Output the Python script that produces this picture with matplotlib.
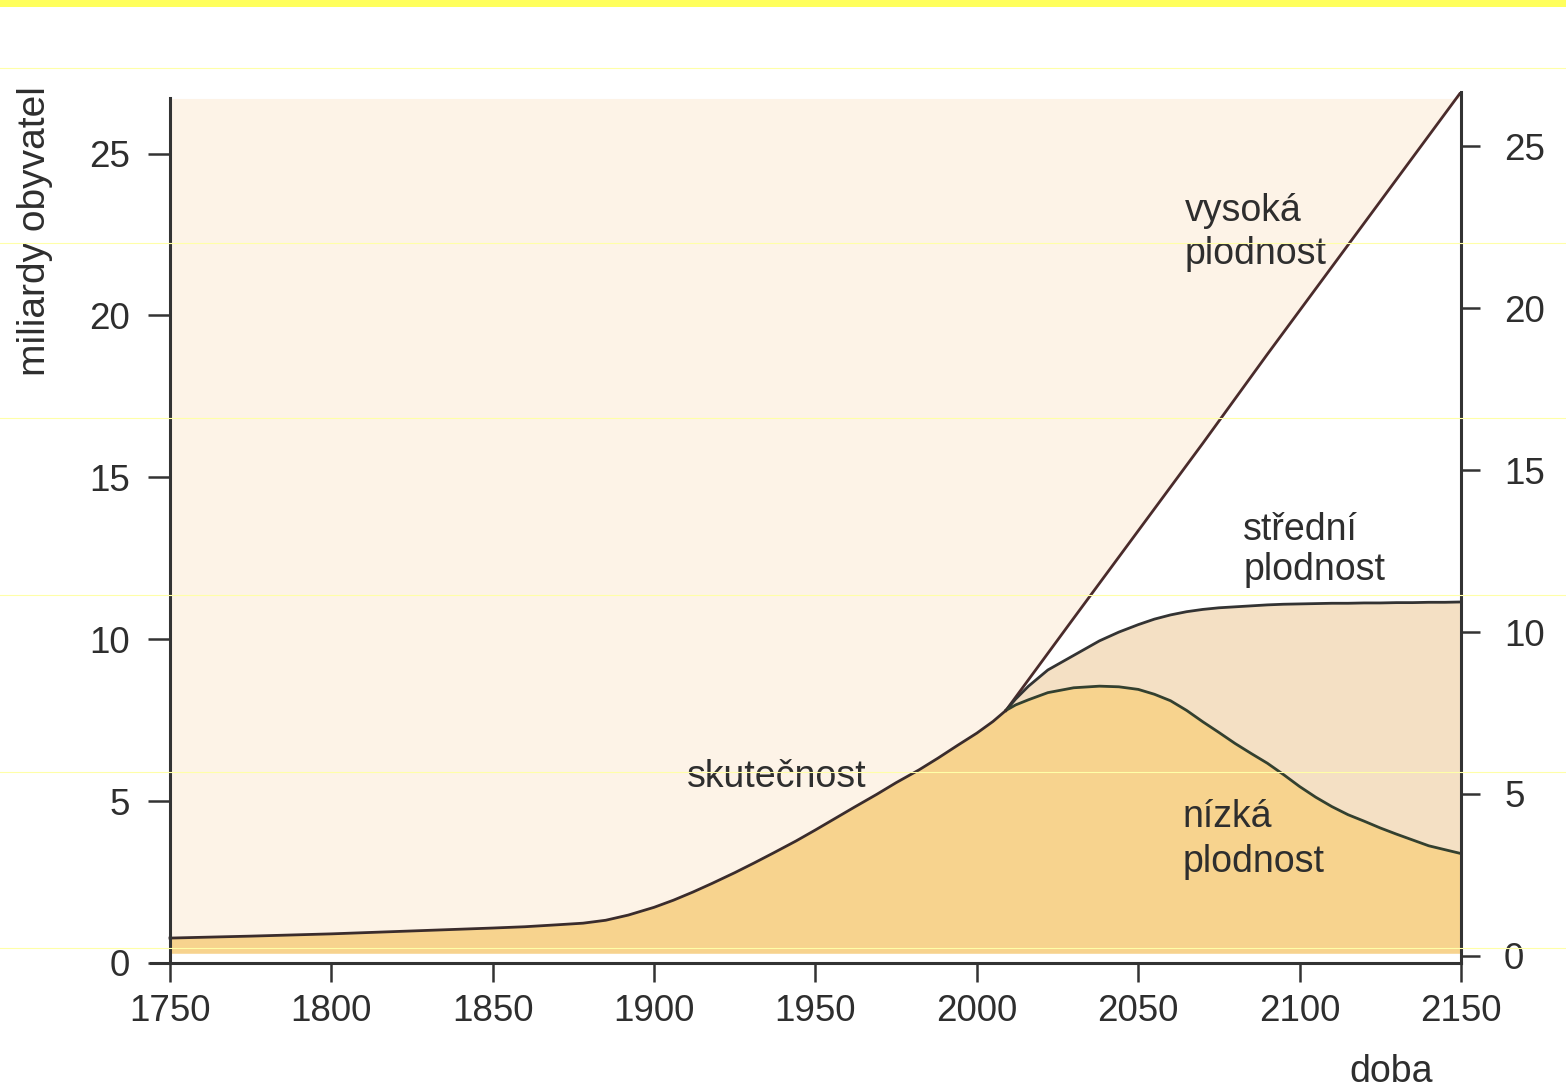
import matplotlib
matplotlib.use("Agg")
import matplotlib.pyplot as plt
from matplotlib.patches import Rectangle
from matplotlib.lines import Line2D

plt.rcParams['font.family'] = ['Liberation Sans', 'DejaVu Sans']

# skutečnost (historie)
hist_years = [1750, 1775, 1800, 1825, 1850, 1860, 1870, 1878, 1885, 1892,
              1900, 1906, 1912, 1918, 1925, 1931, 1937, 1944, 1950, 1956,
              1962, 1969, 1975, 1982, 1988, 1994, 2000, 2005, 2009]
hist_pop = [0.77, 0.83, 0.90, 0.99, 1.08, 1.12, 1.18, 1.23, 1.32, 1.48,
            1.72, 1.94, 2.19, 2.46, 2.79, 3.09, 3.40, 3.77, 4.11, 4.46,
            4.81, 5.21, 5.57, 5.96, 6.33, 6.72, 7.10, 7.46, 7.80]

# vysoká plodnost (přímka)
high_years = [2009, 2030, 2050, 2070, 2090, 2110, 2130, 2150]
high = [7.80, 10.65, 13.35, 16.05, 18.80, 21.50, 24.20, 26.90]

# střední a nízká plodnost
proj_years = [2009, 2012, 2016, 2022, 2030, 2038, 2044, 2050, 2055, 2060,
              2065, 2070, 2075, 2080, 2085, 2090, 2095, 2100, 2105, 2110,
              2115, 2120, 2125, 2130, 2135, 2140, 2145, 2150]
medium = [7.80, 8.15, 8.55, 9.05, 9.50, 9.95, 10.22, 10.45, 10.62, 10.75,
          10.85, 10.92, 10.97, 11.00, 11.03, 11.06, 11.08, 11.09, 11.10, 11.11,
          11.11, 11.12, 11.12, 11.13, 11.13, 11.14, 11.14, 11.15]
low = [7.80, 7.97, 8.13, 8.35, 8.50, 8.55, 8.53, 8.45, 8.30, 8.10,
       7.80, 7.45, 7.12, 6.78, 6.47, 6.17, 5.82, 5.45, 5.12, 4.83,
       4.58, 4.38, 4.17, 3.98, 3.80, 3.62, 3.50, 3.38]

x_ticks = [1750, 1800, 1850, 1900, 1950, 2000, 2050, 2100, 2150]
y_ticks = [0, 5, 10, 15, 20, 25]

W, H = 1566, 1090
fig = plt.figure(figsize=(W / 100, H / 100), dpi=100)
fig.patch.set_facecolor('white')

# žlutý pruh nahoře a slabé linky ze skenu
fig.patches.append(Rectangle((0, 1 - 7 / H), 1, 7 / H, transform=fig.transFigure,
                             facecolor='#ffff5c', edgecolor='none'))
for yy in [68, 243, 418, 595, 772, 948]:
    fig.lines.append(Line2D([0, 1], [1 - yy / H] * 2, transform=fig.transFigure,
                            color='#ffffa8', lw=0.8, zorder=10))

left, right = 150.6, 1461
bottom, top = 963, 92
ax = fig.add_axes([left / W, 1 - bottom / H, (right - left) / W, (bottom - top) / H])
ax.set_xlim(1744, 2150)
ax.set_ylim(0, 26.9)
ax.set_facecolor('none')

line_c = '#333333'
txt_c = '#2e2e2e'

high_all = hist_pop + high[1:]
low_all = hist_pop + low[1:]

ax.fill_between(hist_years + high_years[1:], high_all, 26.7, color='#fdf3e7', lw=0)
ax.fill_between(hist_years + proj_years[1:], 0.3, low_all, color='#f7d38e', lw=0)
ax.fill_between(proj_years, low, medium, color='#f4e0c4', lw=0)

lw = 2.0
ax.plot(high_years, high, color='#4a2b2b', lw=lw)
ax.plot(proj_years, medium, color=line_c, lw=lw)
ax.plot(proj_years, low, color='#33402f', lw=lw)
ax.plot(hist_years, hist_pop, color='#3a2c2c', lw=lw)

for s in ['top', 'right']:
    ax.spines[s].set_visible(False)
ax.spines['left'].set_position(('data', 1750))
ax.spines['left'].set_bounds(0, 26.7)
for s in ['left', 'bottom']:
    ax.spines[s].set_color(line_c)
    ax.spines[s].set_linewidth(2.2)

ax.set_xticks(x_ticks)
ax.set_yticks(y_ticks)
ax.tick_params(axis='x', direction='out', length=14, width=1.8, color=line_c,
               labelsize=26.5, labelcolor=txt_c, pad=8)
ax.tick_params(axis='y', direction='out', length=16, width=1.8, color=line_c,
               labelsize=26.5, labelcolor=txt_c, pad=13)

ax2 = ax.twinx()
ax2.set_ylim(-0.22, 26.68)
for s in ['top', 'left', 'bottom']:
    ax2.spines[s].set_visible(False)
ax2.spines['right'].set_color(line_c)
ax2.spines['right'].set_linewidth(2.2)
ax2.set_yticks(y_ticks)
ax2.tick_params(axis='y', direction='out', length=14, width=1.8, color=line_c,
                labelsize=26.5, labelcolor=txt_c, pad=17)

fs = 27
ax.text(2064.5, 22.93, 'vysoká', fontsize=fs, color=txt_c, va='baseline')
ax.text(2064.5, 21.60, 'plodnost', fontsize=fs, color=txt_c, va='baseline')
ax.text(2082.5, 13.06, 'střední', fontsize=fs, color=txt_c, va='baseline')
ax.text(2082.5, 11.82, 'plodnost', fontsize=fs, color=txt_c, va='baseline')
ax.text(2063.6, 4.20, 'nízká', fontsize=fs, color=txt_c, va='baseline')
ax.text(2063.6, 2.81, 'plodnost', fontsize=fs, color=txt_c, va='baseline')
ax.text(1910.2, 5.43, 'skutečnost', fontsize=fs, color=txt_c, va='baseline')

fig.text(35 / W, 1 - 231 / H, 'miliardy obyvatel', rotation=90, fontsize=28,
         color=txt_c, ha='center', va='center')
fig.text(1391 / W, 1 - 1072 / H, 'doba', fontsize=fs, color=txt_c,
         ha='center', va='center')

fig.savefig('out.png', dpi=100)
